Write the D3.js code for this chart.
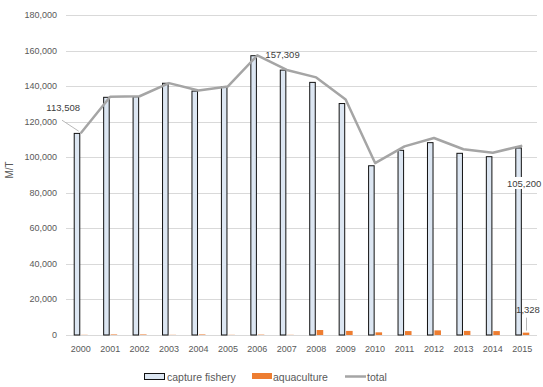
<!DOCTYPE html>
<html>
<head>
<meta charset="utf-8">
<script src="https://cdn.jsdelivr.net/npm/d3@7.9.0/dist/d3.min.js"></script>
<style>
  body { margin: 0; background: #fff; }
  svg { display: block; font-family: "Liberation Sans", Arial, sans-serif; }
</style>
</head>
<body>
<svg id="chart" width="543" height="387"></svg>
<script>
const years = ['2000','2001','2002','2003','2004','2005','2006','2007','2008','2009','2010','2011','2012','2013','2014','2015'];
const capture = [113400, 133700, 134000, 141600, 137200, 139700, 157100, 149000, 142100, 130200, 95200, 103900, 108200, 102200, 100300, 105200];
const aquaculture = [100, 300, 300, 100, 300, 100, 200, 100, 2800, 2300, 1500, 2200, 2600, 2300, 2200, 1328];
const total = capture.map((c, i) => c + aquaculture[i]);
total[0] = 113508;
total[6] = 157309;
const yTicks = [0, 20000, 40000, 60000, 80000, 100000, 120000, 140000, 160000, 180000];

const svg = d3.select('#chart');
const fmt = d3.format(',');

const x = d3.scaleBand().domain(years).range([66, 537]);
const y = d3.scaleLinear().domain([0, 180000]).range([335, 15]);
const bw = x.bandwidth();
const x1 = d3.scaleBand().domain(['capture', 'aqua'])
  .range([bw / 2 - 7, bw / 2 + 7]).paddingInner(0.12);

// gridlines
svg.append('g').selectAll('line').data(yTicks).join('line')
  .attr('x1', 66).attr('x2', 537)
  .attr('y1', d => Math.round(y(d)) + 0.5).attr('y2', d => Math.round(y(d)) + 0.5)
  .attr('stroke', '#d9d9d9').attr('stroke-width', 1);

// y tick labels
svg.append('g').selectAll('text').data(yTicks).join('text')
  .attr('x', 57).attr('y', d => y(d) + 3)
  .attr('text-anchor', 'end')
  .attr('font-size', 9).attr('fill', '#595959')
  .text(d => fmt(d));

// y axis title
svg.append('text')
  .attr('transform', 'translate(13,170) rotate(-90)')
  .attr('text-anchor', 'middle')
  .attr('font-size', 10).attr('fill', '#595959')
  .text('M/T');

// x labels
svg.append('g').selectAll('text').data(years).join('text')
  .attr('x', d => x(d) + bw / 2).attr('y', 352)
  .attr('text-anchor', 'middle')
  .attr('font-size', 9).attr('fill', '#595959')
  .text(d => d);

// capture fishery bars
svg.append('g').selectAll('rect').data(years).join('rect')
  .attr('x', d => x(d) + x1('capture') + 0.5)
  .attr('y', (d, i) => y(capture[i]))
  .attr('width', x1.bandwidth() - 1)
  .attr('height', (d, i) => y(0) - y(capture[i]))
  .attr('fill', '#dce6f2')
  .attr('stroke', '#111').attr('stroke-width', 1);

// aquaculture bars
svg.append('g').selectAll('rect').data(years).join('rect')
  .attr('x', d => x(d) + x1('aqua'))
  .attr('y', (d, i) => y(aquaculture[i]))
  .attr('width', x1.bandwidth())
  .attr('height', (d, i) => y(0) - y(aquaculture[i]))
  .attr('fill', '#ed7d31');

// total line
const line = d3.line()
  .x((d, i) => x(years[i]) + bw / 2)
  .y(d => y(d));
svg.append('path')
  .datum(total)
  .attr('d', line)
  .attr('fill', 'none')
  .attr('stroke', '#a5a5a5')
  .attr('stroke-width', 2.5)
  .attr('stroke-linejoin', 'round');

// data labels
const cx = i => x(years[i]) + bw / 2;
// 113,508 with leader
svg.append('line')
  .attr('x1', 62).attr('y1', y(total[0]) - 13)
  .attr('x2', cx(0) - 2).attr('y2', y(total[0]) - 2)
  .attr('stroke', '#a6a6a6').attr('stroke-width', 0.8);
svg.append('text')
  .attr('x', 80).attr('y', y(total[0]) - 22)
  .attr('text-anchor', 'end').attr('font-size', 9.5).attr('fill', '#404040')
  .text(fmt(total[0]));
// 157,309
svg.append('text')
  .attr('x', cx(6) + 8).attr('y', y(total[6]) + 3)
  .attr('font-size', 9.5).attr('fill', '#404040')
  .text(fmt(total[6]));
// 105,200
const lbl = svg.append('g');
lbl.append('rect')
  .attr('x', 506).attr('y', y(capture[15]) + 29)
  .attr('width', 37).attr('height', 12).attr('fill', '#fff');
lbl.append('text')
  .attr('x', 507).attr('y', y(capture[15]) + 39)
  .attr('font-size', 9.5).attr('fill', '#404040')
  .text(fmt(capture[15]));
// 1,328 with leader
svg.append('line')
  .attr('x1', x(years[15]) + x1('aqua') + x1.bandwidth() / 2 + 0.5)
  .attr('x2', x(years[15]) + x1('aqua') + x1.bandwidth() / 2 + 0.5)
  .attr('y1', y(aquaculture[15]) - 15).attr('y2', y(aquaculture[15]) - 2)
  .attr('stroke', '#a6a6a6').attr('stroke-width', 0.8);
svg.append('text')
  .attr('x', 528).attr('y', y(aquaculture[15]) - 20)
  .attr('text-anchor', 'middle').attr('font-size', 9.5).attr('fill', '#404040')
  .text(fmt(aquaculture[15]));

// legend
const leg = svg.append('g').attr('font-size', 10.5).attr('fill', '#595959');
leg.append('rect').attr('x', 144.5).attr('y', 373.5).attr('width', 20).attr('height', 6)
  .attr('fill', '#dce6f2').attr('stroke', '#111');
leg.append('text').attr('x', 167).attr('y', 381).text('capture fishery');
leg.append('rect').attr('x', 252).attr('y', 373).attr('width', 20).attr('height', 6)
  .attr('fill', '#ed7d31');
leg.append('text').attr('x', 273).attr('y', 381).text('aquaculture');
leg.append('line').attr('x1', 345).attr('x2', 366).attr('y1', 376.5).attr('y2', 376.5)
  .attr('stroke', '#a5a5a5').attr('stroke-width', 2.5);
leg.append('text').attr('x', 367).attr('y', 381).text('total');
</script>
</body>
</html>
